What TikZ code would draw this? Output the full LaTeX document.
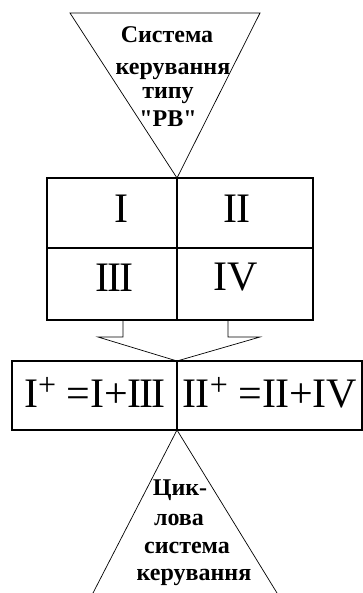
\documentclass[tikz,border=0pt]{standalone}
\usepackage{fontspec}
\setmainfont{Liberation Serif}
\usetikzlibrary{positioning,calc}
\newcommand{\plussup}{\raisebox{12pt}{\fontsize{32}{32}\selectfont+}}

\begin{document}
\begin{tikzpicture}[x=1pt,y=-1pt]
        \tikzstyle{word}=[inner sep=0pt, anchor=base, font=\bfseries\fontsize{24}{24}\selectfont]
        \tikzstyle{numeral}=[inner sep=0pt, anchor=base, font=\fontsize{42}{42}\selectfont]
        \tikzstyle{frame}=[line width=1.2pt]
        \tikzstyle{edge}=[line width=0.7pt]
        \useasboundingbox (0,0) rectangle (363,593);

        % Upper triangle
        \coordinate (tl) at (70,13);
        \coordinate (tr) at (260,13);
        \coordinate (tapex) at (177,178);
        \draw[edge] (tl) -- (tr) -- (tapex) -- cycle;
        \node[word] (t1) at (167,43) {Система};
        \node[word] (t2) at (173,75) {керування};
        \node[word] (t3) at (168,99) {типу};
        \node[word] (t4) at (168,127) {\textquotedbl РВ\textquotedbl};

        % Upper box, four quadrants
        \coordinate (a) at (47,178);
        \coordinate (b) at (313,320);
        \draw[frame] (a) rectangle (b);
        \draw[frame] (a |- 0,248) -- (b |- 0,248);
        \draw[frame] (tapex) -- (tapex |- b);
        \node[numeral] (q1) at (121,223) {I};
        \node[numeral] (q2) at (237,223) {I\kern-1ptI};
        \node[numeral] (q3) at (114,291) {I\kern-2ptI\kern-2ptI};
        \node[numeral] (q4) at (236,290) {IV};

        % Merging arrow
        \coordinate (stemL) at (123,320);
        \coordinate (stemR) at (228,320);
        \coordinate (tipL) at (98,337);
        \coordinate (tipR) at (260,337);
        \coordinate (apex) at (177,361);
        \draw[edge] (stemL) |- (tipL) -- (apex) -- (tipR) -| (stemR);

        % Lower box
        \coordinate (c) at (12,361);
        \coordinate (d) at (362,430);
        \draw[frame] (c) rectangle (d);
        \draw[frame] (apex) -- (apex |- d);
        \node[numeral] (s1) at (95,407) {I\plussup\ =I+I\kern-2ptI\kern-2ptI};
        \node[numeral] (s2) at (270,407) {I\kern-1ptI\plussup\ =I\kern-1ptI+IV};

        % Lower triangle
        \coordinate (bapex) at (177,430);
        \coordinate (bl) at (93,593);
        \coordinate (br) at (277,593);
        \draw[edge] (bl) -- (bapex) -- (br);
        \node[word] (b1) at (180,495) {Цик-};
        \node[word] (b2) at (179,525) {лова};
        \node[word] (b3) at (187,553) {система};
        \node[word] (b4) at (194,580) {керування};
\end{tikzpicture}
\end{document}
